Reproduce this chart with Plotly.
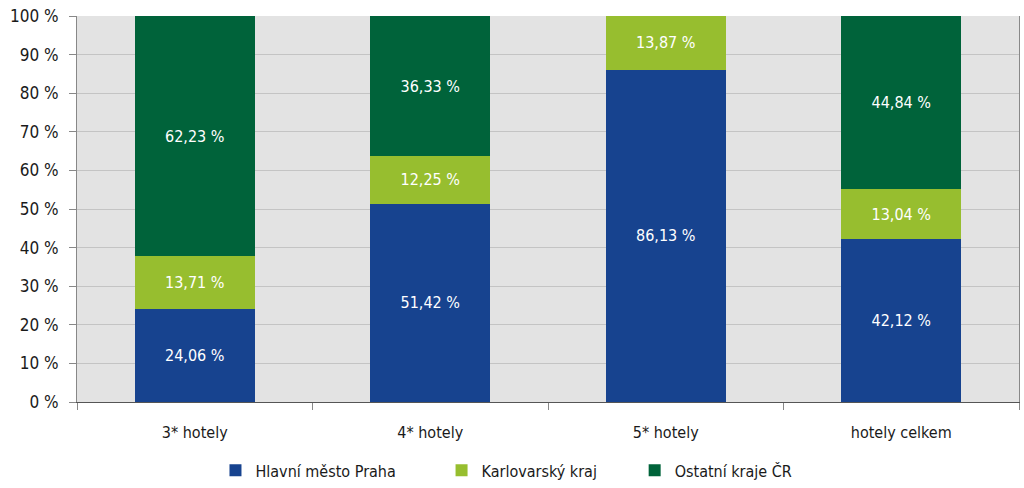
import plotly.graph_objects as go

categories = ["3* hotely", "4* hotely", "5* hotely", "hotely celkem"]
praha = [24.06, 51.42, 86.13, 42.12]
karlovarsky = [13.71, 12.25, 13.87, 13.04]
ostatni = [62.23, 36.33, 0.0, 44.84]
series_names = ["Hlavní město Praha", "Karlovarský kraj", "Ostatní kraje ČR"]
colors = ["#17438F", "#97BE2F", "#00633A"]
y_ticks = [0, 10, 20, 30, 40, 50, 60, 70, 80, 90, 100]
y_ticktext = ["0 %", "10 %", "20 %", "30 %", "40 %", "50 %", "60 %", "70 %", "80 %", "90 %", "100 %"]

FONT = "DejaVu Sans Condensed, sans-serif"
FS = 16


def fmt(v):
    return ("%.2f" % v).replace(".", ",") + " %" if v > 0 else ""


legend_ids = ["legend", "legend2", "legend3"]
legend_x = [0.147, 0.387, 0.592]

fig = go.Figure()
for name, vals, col, lg in zip(series_names, [praha, karlovarsky, ostatni], colors, legend_ids):
    fig.add_trace(go.Bar(
        x=categories, y=vals, name=name, legend=lg,
        marker=dict(color=col, line=dict(width=0)),
        text=[fmt(v) for v in vals], textposition="inside",
        insidetextanchor="middle", textangle=0,
        textfont=dict(color="white", size=FS, family=FONT),
        hoverinfo="skip",
    ))

legend_common = dict(orientation="h", xanchor="left", yref="container", y=0.071, yanchor="top",
                     font=dict(size=FS, family=FONT, color="#1a1a1a"),
                     itemwidth=30, bgcolor="rgba(0,0,0,0)")
fig.update_layout(
    barmode="stack",
    bargap=0.49,
    width=1024, height=488,
    margin=dict(l=77, r=5, t=16, b=86),
    plot_bgcolor="#E3E3E3",
    paper_bgcolor="white",
    font=dict(family=FONT, size=FS, color="#1a1a1a"),
    uniformtext=dict(mode=False),
    legend=dict(x=legend_x[0], **legend_common),
    legend2=dict(x=legend_x[1], **legend_common),
    legend3=dict(x=legend_x[2], **legend_common),
    showlegend=True,
)
fig.update_xaxes(
    type="category", tickson="boundaries", ticks="outside", ticklen=7,
    tickcolor="#888888", showline=True, linecolor="#555555", linewidth=1,
    showgrid=False, tickfont=dict(size=FS, family=FONT), ticklabelstandoff=16,
)
fig.update_yaxes(
    range=[0, 100], tickmode="array", tickvals=y_ticks, ticktext=y_ticktext,
    ticks="outside", ticklen=7,
    tickcolor="#888888", showline=True, linecolor="#888888", linewidth=1, mirror=True,
    showgrid=True, gridcolor="#C4C4C4", gridwidth=1, zeroline=False,
    tickfont=dict(size=17, family=FONT), ticklabelstandoff=7,
)

fig.write_html("out.html")
